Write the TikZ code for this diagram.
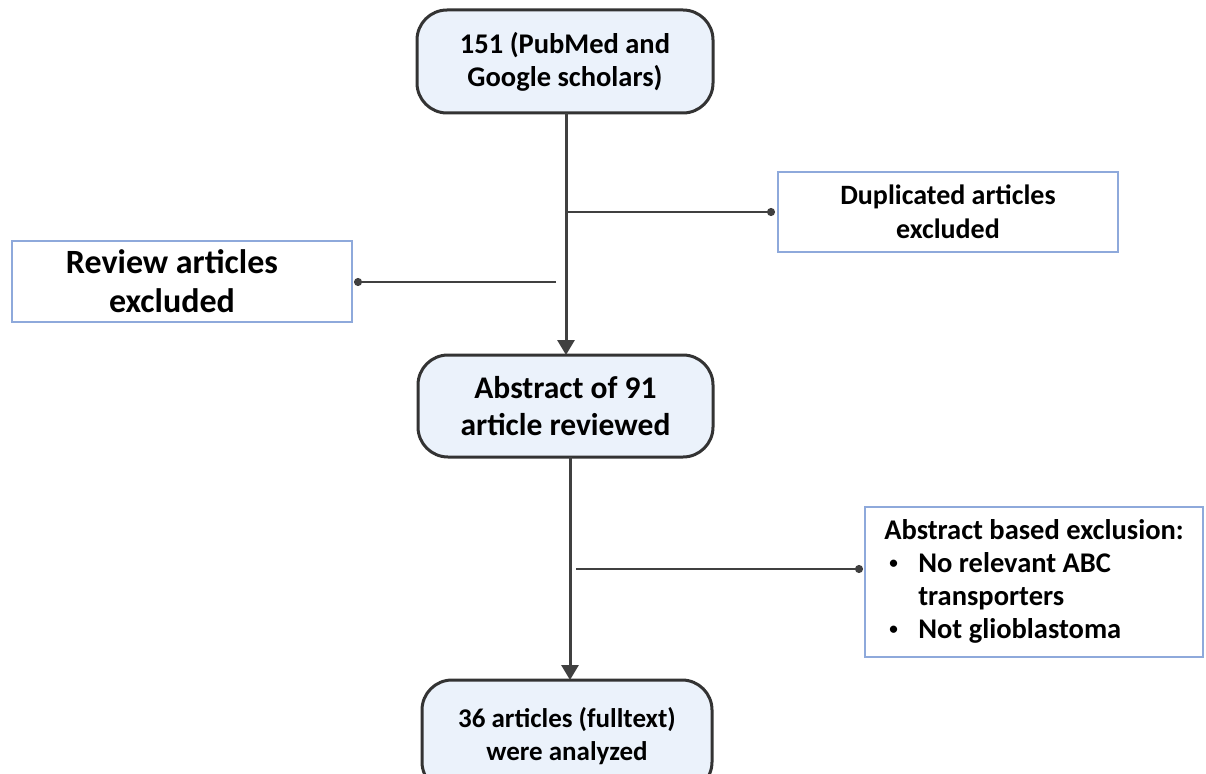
\documentclass[tikz,border=0pt]{standalone}
\usepackage{fontspec}
\setmainfont{Carlito}
\usetikzlibrary{arrows.meta}
\definecolor{boxfill}{HTML}{EBF2FB}
\definecolor{boxdraw}{HTML}{333333}
\definecolor{bluedraw}{HTML}{8EA9DB}
\definecolor{linecol}{HTML}{404040}
\newcommand{\smbul}{\makebox[34pt][l]{\hspace{5pt}\raisebox{4pt}{\scalebox{0.6}{\textbullet}}}}
\tikzset{
  roundbox/.style={draw=boxdraw, line width=3pt, fill=boxfill, rounded corners=30pt, align=center, font=\bfseries, inner sep=0pt},
  excbox/.style={draw=bluedraw, line width=2pt, fill=white, align=center, font=\bfseries, inner sep=0pt},
  mainarrow/.style={draw=linecol, line width=3pt, -{Triangle[width=17pt,length=15pt]}},
  branch/.style={draw=linecol, line width=2pt, -{Circle[length=8pt,width=8pt]}, shorten >=2pt}
}
\begin{document}
\begin{tikzpicture}[x=1pt,y=-1pt]
\useasboundingbox (0,0) rectangle (1206,773);
\clip (0,0) rectangle (1206,773);
\node[roundbox, minimum width=296pt, minimum height=103pt, font=\bfseries\fontsize{28.5}{33}\selectfont] (top) at (565,61.5) {151 (PubMed and\\Google scholars)};
\node[excbox, minimum width=340pt, minimum height=80pt, font=\bfseries\fontsize{28}{34}\selectfont] (dup) at (948,212) {Duplicated articles\\excluded};
\node[excbox, minimum width=340pt, minimum height=81pt, font=\bfseries\fontsize{34}{39}\selectfont] (rev) at (182,281.5) {Review articles\hspace*{20pt}\\excluded\hspace*{20pt}};
\node[roundbox, minimum width=295pt, minimum height=102pt, font=\bfseries\fontsize{31.5}{37}\selectfont] (abs) at (565.5,406) {Abstract of 91\\article reviewed};
\node[excbox, minimum width=338pt, minimum height=150pt, font=\bfseries\fontsize{28.5}{33}\selectfont] (exc) at (1034,582) {%
\begin{tabular}{@{}l@{}}
Abstract based exclusion:\\
\smbul No relevant ABC\\
\hspace*{34pt}transporters\\
\smbul Not glioblastoma
\end{tabular}};
\node[roundbox, minimum width=290pt, minimum height=112pt, font=\bfseries\fontsize{27}{33}\selectfont] (full) at (567,736) {36 articles (fulltext)\\were analyzed};
\coordinate (j1) at (566,212);
\coordinate (j2) at (556,282);
\coordinate (j3) at (576,569);
\draw[mainarrow] (566,113) coordinate (t1) -- (566,355) coordinate (a1);
\draw[branch] (j1) -- (dup.west |- j1);
\draw[branch, shorten >=1pt] (j2) -- (rev.east |- j2);
\draw[mainarrow] (570,457) coordinate (t2) -- (570,680) coordinate (a2);
\draw[branch, shorten >=1pt] (j3) -- (exc.west |- j3);
\end{tikzpicture}
\end{document}
